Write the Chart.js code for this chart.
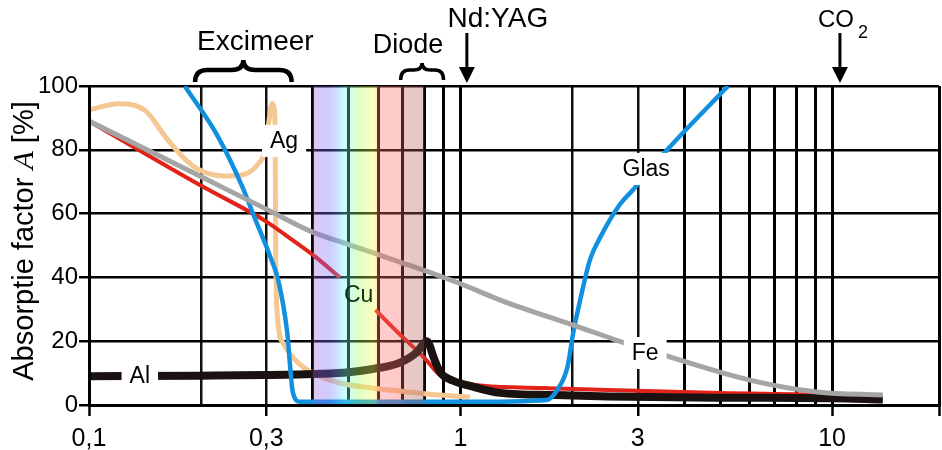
<!DOCTYPE html>
<html><head><meta charset="utf-8">
<script src="https://cdn.jsdelivr.net/npm/chart.js@4/dist/chart.umd.min.js"></script>
<style>html,body{margin:0;padding:0;background:#fff;}#wrap{width:942px;height:450px;}</style>
</head><body><div id="wrap"><canvas id="c" width="942" height="450"></canvas></div>
<script>
// ---- axis data ----
const xMin = 0.1;
const xMax = 19.4;
const xGridValues = [0.1,0.2,0.3,0.4,0.5,0.6,0.7,0.8,0.9,1,2,3,4,5,6,7,8,9,10];
const xThinGrid = [0.2,0.3,2,3];
const xLabelValues = [0.1,0.3,1,3,10];
const xLabelTexts = ['0,1','0,3','1','3','10'];
const yTicks = [0,20,40,60,80,100];

// ---- series (wavelength in µm, absorption in %) ----
const agX = [0.1,0.12,0.142,0.16,0.178,0.196,0.232,0.263,0.285,0.298,0.305,0.309,0.312,0.315,0.317,0.318,0.321,0.333,0.359,0.4,0.473,0.58,0.718,0.88,1.06];
const agY = [92.5,94.4,92.2,84.3,78,74,71.8,72.4,75.5,80,89,93.5,94.5,93,85,50,28.8,19.4,14.1,10,6.9,5.3,4.1,3.1,2.5];

const cuX = [0.1,0.2,0.3,0.35,0.406,0.473,0.53,0.59,0.68,0.8,0.88,0.97,1.15,1.7,2.5,5,10,13];
const cuY = [89,68.8,57.5,52,46.5,40,null,29.8,22.6,14.7,9.4,7.5,6.0,5.3,4.7,3.8,3.1,2.5];

const feX = [0.1,0.2,0.3,0.4,0.5,0.7,1.0,1.28,2.0,2.38,2.77,3.51,6.0,9.1,13.7];
const feY = [89,71.6,61.4,54.2,50.3,44.5,38,32.9,25.1,22.1,19.4,15.7,7.8,4.1,3.1];

const glasX = [0.181,0.222,0.258,0.28,0.307,0.323,0.341,0.354,0.37,1.0,1.71,1.82,1.94,2.01,2.10,2.23,2.38,2.69,2.91,3.6,5.25];
const glasY = [100,84.3,68.7,58.3,46.7,39.2,23.5,3.8,1.0,1.0,1.6,4.7,11.9,22.6,33,45.5,52.7,63,67.4,80,100];

const alX = [0.1,0.2,0.3,0.419,0.5,0.58,0.687,0.763,0.785,0.8,0.812,0.826,0.843,0.881,0.955,1.06,1.28,1.8,2.5,5,10,13.7];
const alY = [9,9.2,9.4,9.8,10.3,11.3,13.3,16.6,18.4,19.6,20,18.6,15.5,10.3,7.6,6.0,3.8,3.1,2.7,2.3,2.1,1.7];

// visible spectrum band (µm)
const bandRange = [0.4, 0.8];

// in-plot labels
const labelTexts = ['Ag','Cu','Glas','Fe','Al'];
const labelX = [0.335,0.532,3.16,3.14,0.137];
const labelY = [82.8,34.5,74,16.3,9.1];
const labelBoxed = [true,false,true,true,true];

// laser annotations
const excimerRange = [0.193, 0.351];
const diodeRange = [0.69, 0.9];
const ndyagLine = 1.04;
const co2Line = 10.5;

const pts = (xs, ys) => xs.map((x, i) => ({x: x, y: ys[i]}));

const bandStops = [
  [0.00,'rgba(160,98,212,0.35)'],
  [0.15,'rgba(120,105,255,0.35)'],
  [0.29,'rgba(98,255,255,0.35)'],
  [0.40,'rgba(155,255,98,0.35)'],
  [0.55,'rgba(255,255,69,0.35)'],
  [0.60,'rgba(255,112,112,0.35)'],
  [0.78,'rgba(255,98,98,0.35)'],
  [0.82,'rgba(198,98,92,0.35)'],
  [1.00,'rgba(169,92,92,0.35)']
];

function bandGradient(context) {
  const chart = context.chart;
  if (!chart.chartArea) return 'rgba(0,0,0,0)';
  const xs = chart.scales.x;
  const x0 = xs.getPixelForValue(bandRange[0]);
  const x1 = xs.getPixelForValue(bandRange[1]);
  const g = chart.ctx.createLinearGradient(x0, 0, x1, 0);
  bandStops.forEach(s => g.addColorStop(s[0], s[1]));
  return g;
}

const FONT = "'Liberation Sans', Arial, sans-serif";
const near = (a, b) => Math.abs(a - b) < 1e-9;
const isLabeled = v => xLabelValues.some(l => near(l, v));
const labelFor = v => { const i = xLabelValues.findIndex(l => near(l, v)); return i >= 0 ? xLabelTexts[i] : ''; };

function drawBrace(ctx, x1, x2, yEnd, yBody, yTip) {
  const xm = (x1 + x2) / 2;
  const r = Math.min(12, (x2 - x1) / 5);
  ctx.beginPath();
  ctx.moveTo(x1, yEnd);
  ctx.quadraticCurveTo(x1, yBody, x1 + r, yBody);
  ctx.lineTo(xm - r, yBody);
  ctx.quadraticCurveTo(xm, yBody, xm, yTip);
  ctx.quadraticCurveTo(xm, yBody, xm + r, yBody);
  ctx.lineTo(x2 - r, yBody);
  ctx.quadraticCurveTo(x2, yBody, x2, yEnd);
  ctx.stroke();
}

function drawArrow(ctx, x, y0, y1) {
  ctx.beginPath();
  ctx.moveTo(x, y0); ctx.lineTo(x, y1 - 12);
  ctx.stroke();
  ctx.beginPath();
  ctx.moveTo(x - 8, y1 - 16); ctx.lineTo(x + 8, y1 - 16); ctx.lineTo(x, y1); ctx.closePath();
  ctx.fill();
}

const annotations = {
  id: 'annotations',
  afterDraw(chart) {
    const ctx = chart.ctx, xs = chart.scales.x, ys = chart.scales.y;
    ctx.save();
    // in-plot labels
    ctx.font = '23px ' + FONT;
    ctx.textAlign = 'center';
    ctx.textBaseline = 'middle';
    labelTexts.forEach((t, i) => {
      const px = xs.getPixelForValue(labelX[i]);
      const py = ys.getPixelForValue(labelY[i]);
      const w = ctx.measureText(t).width;
      if (labelBoxed[i]) {
        ctx.fillStyle = '#fff';
        ctx.fillRect(px - w / 2 - 8, py - 16, w + 16, 32);
      }
      ctx.fillStyle = labelBoxed[i] ? '#000' : '#12301a';
      ctx.fillText(t, px, py + 1);
    });
    // top annotations
    ctx.fillStyle = '#000';
    ctx.strokeStyle = '#000';
    ctx.textBaseline = 'alphabetic';
    const top = chart.chartArea.top;
    // Excimeer
    const ex0 = xs.getPixelForValue(excimerRange[0]), ex1 = xs.getPixelForValue(excimerRange[1]);
    ctx.font = '28px ' + FONT;
    ctx.fillText('Excimeer', (ex0 + ex1) / 2 + 12, 50);
    ctx.lineWidth = 4.5;
    drawBrace(ctx, ex0, ex1, top - 4, top - 16, top - 26);
    // Diode
    const d0 = xs.getPixelForValue(diodeRange[0]), d1 = xs.getPixelForValue(diodeRange[1]);
    ctx.font = '27px ' + FONT;
    ctx.fillText('Diode', (d0 + d1) / 2 - 14, 53);
    ctx.lineWidth = 3.5;
    drawBrace(ctx, d0, d1, top - 6, top - 16, top - 23);
    // Nd:YAG
    const nx = xs.getPixelForValue(ndyagLine);
    ctx.font = '28px ' + FONT;
    ctx.fillText('Nd:YAG', nx + 31, 27);
    ctx.lineWidth = 3;
    drawArrow(ctx, nx, 33, top - 3);
    // CO2
    const cx = xs.getPixelForValue(co2Line);
    ctx.font = '24px ' + FONT;
    ctx.textAlign = 'left';
    const coW = ctx.measureText('CO').width;
    ctx.fillText('CO', cx - 22, 27);
    ctx.font = '18px ' + FONT;
    ctx.fillText('2', cx - 22 + coW + 4, 38);
    drawArrow(ctx, cx, 33, top - 3);
    // y axis title
    ctx.save();
    ctx.translate(33, 241);
    ctx.rotate(-Math.PI / 2);
    const segs = [['Absorptie factor ', '29px ' + FONT], ['A', "italic 30px 'Liberation Serif', 'Times New Roman', serif"], [' [%]', '29px ' + FONT]];
    let total = 0;
    segs.forEach(s => { ctx.font = s[1]; total += ctx.measureText(s[0]).width; });
    let xp = -total / 2;
    ctx.textAlign = 'left';
    segs.forEach(s => { ctx.font = s[1]; ctx.fillText(s[0], xp, 0); xp += ctx.measureText(s[0]).width; });
    ctx.restore();
    ctx.restore();
  }
};

const lineDs = (label, xs, ys, color, width, order) => ({
  label: label, data: pts(xs, ys), borderColor: color, borderWidth: width,
  pointRadius: 0, fill: false, cubicInterpolationMode: 'monotone', order: order,
  borderCapStyle: 'butt', borderJoinStyle: 'round', spanGaps: false
});

new Chart(document.getElementById('c'), {
  type: 'line',
  data: {
    datasets: [
      { label: 'band', data: pts(bandRange, [100, 100]), borderWidth: 0, borderColor: 'rgba(0,0,0,0)',
        backgroundColor: bandGradient, fill: 'origin', pointRadius: 0, order: 0 },
      lineDs('Fe', feX, feY, '#a5a5a5', 5, 1),
      lineDs('Glas', glasX, glasY, '#1290e0', 4.5, 2),
      lineDs('Al', alX, alY, '#1a1111', 8, 3),
      lineDs('Cu', cuX, cuY, '#e2231a', 4, 4),
      lineDs('Ag', agX, agY, '#f5c893', 5, 5)
    ]
  },
  options: {
    responsive: false,
    animation: false,
    devicePixelRatio: 1,
    layout: { padding: { top: 86, right: 3, left: 0, bottom: 0 } },
    plugins: { legend: { display: false }, tooltip: { enabled: false } },
    scales: {
      x: {
        type: 'logarithmic', min: xMin, max: xMax,
        afterBuildTicks: s => { s.ticks = xGridValues.concat([xMax]).map(v => ({ value: v })); },
        afterFit: s => { s.height = 45; s.paddingLeft = 0; s.paddingRight = 0; },
        ticks: { autoSkip: false, maxRotation: 0, minRotation: 0, color: '#000', padding: 8,
          font: { family: FONT, size: 25 }, callback: v => labelFor(v) },
        grid: {
          color: c => (c.tick && xThinGrid.some(v => near(v, c.tick.value))) ? '#111' : '#000',
          lineWidth: c => (c.tick && xThinGrid.some(v => near(v, c.tick.value))) ? 2.5 : 3,
          tickLength: 11, tickWidth: 2.5,
          tickColor: c => (c.tick && (isLabeled(c.tick.value) || near(c.tick.value, xMax))) ? '#000' : 'rgba(0,0,0,0)' },
        border: { display: true, color: '#000', width: 3, z: 1 }
      },
      y: {
        min: 0, max: 100,
        afterBuildTicks: s => { s.ticks = yTicks.map(v => ({ value: v })); },
        afterFit: s => { s.width = 89; },
        ticks: { color: '#000', padding: 1, font: { family: FONT, size: 24 } },
        grid: { color: '#000', lineWidth: 2.5, tickLength: 10, tickWidth: 2.5 },
        border: { display: true, color: '#000', width: 3, z: 1 }
      }
    }
  },
  plugins: [annotations]
});
</script></body></html>
